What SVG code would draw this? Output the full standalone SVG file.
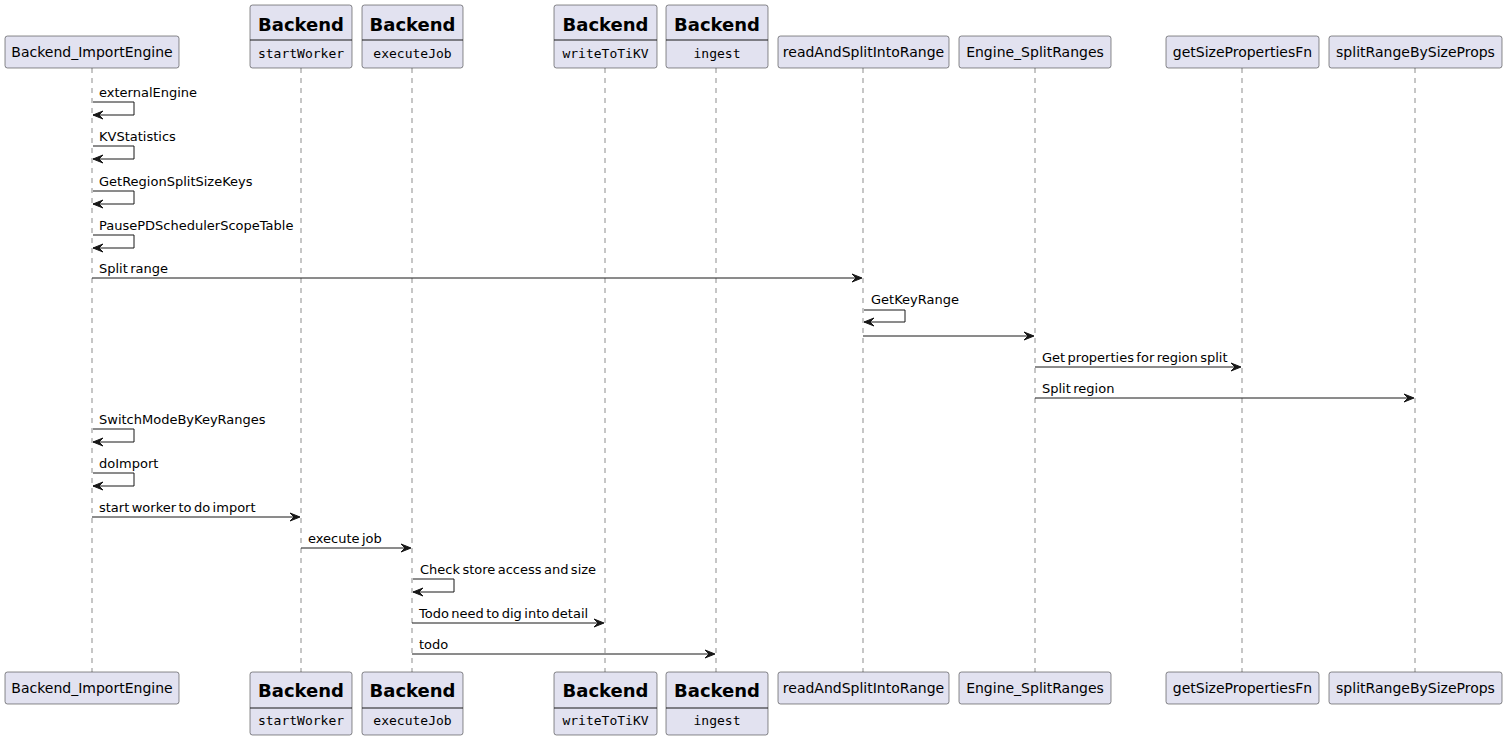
<svg xmlns="http://www.w3.org/2000/svg" width="1507" height="740" viewBox="0 0 1507 740">
<style>
.bg{fill:#FFFFFF}
.box{fill:#E2E2F0;stroke:#181818;stroke-width:0.5}
.life{stroke:#181818;stroke-width:0.5;stroke-dasharray:5,5;fill:none}
.msg{stroke:#181818;stroke-width:1;fill:none}
.head{fill:#181818;stroke:#181818;stroke-width:1}
.pl{font-family:"DejaVu Sans",sans-serif;font-size:14px;fill:#000000}
.pb{font-family:"DejaVu Sans",sans-serif;font-size:18px;font-weight:bold;fill:#000000}
.pm{font-family:"DejaVu Sans Mono",monospace;font-size:13px;fill:#000000}
.ml{font-family:"DejaVu Sans",sans-serif;font-size:13px;fill:#000000;word-spacing:-1.7px}
.sep{stroke:#181818;stroke-width:1}
</style>
<rect class="bg" x="0" y="0" width="1507" height="740"/>
<g id="lifelines">
<line class="life" x1="92" y1="68" x2="92" y2="672"/>
<line class="life" x1="301" y1="68" x2="301" y2="672"/>
<line class="life" x1="412" y1="68" x2="412" y2="672"/>
<line class="life" x1="605" y1="68" x2="605" y2="672"/>
<line class="life" x1="716" y1="68" x2="716" y2="672"/>
<line class="life" x1="863" y1="68" x2="863" y2="672"/>
<line class="life" x1="1035" y1="68" x2="1035" y2="672"/>
<line class="life" x1="1242" y1="68" x2="1242" y2="672"/>
<line class="life" x1="1415" y1="68" x2="1415" y2="672"/>
</g>
<g id="p_importengine">
<rect class="box" x="5" y="36" width="174" height="32" rx="2.5"/>
<text class="pl" x="92" y="57" text-anchor="middle">Backend_ImportEngine</text>
<rect class="box" x="5" y="672" width="174" height="32" rx="2.5"/>
<text class="pl" x="92" y="693" text-anchor="middle">Backend_ImportEngine</text>
</g>
<g id="p_startworker">
<rect class="box" x="250" y="5" width="102" height="63" rx="2.5"/>
<text class="pb" x="301" y="31" text-anchor="middle">Backend</text>
<line class="sep" x1="250" y1="40" x2="352" y2="40"/>
<text class="pm" x="301" y="58" text-anchor="middle">startWorker</text>
<rect class="box" x="250" y="672" width="102" height="63" rx="2.5"/>
<text class="pb" x="301" y="697" text-anchor="middle">Backend</text>
<line class="sep" x1="250" y1="708" x2="352" y2="708"/>
<text class="pm" x="301" y="725" text-anchor="middle">startWorker</text>
</g>
<g id="p_executejob">
<rect class="box" x="362" y="5" width="101" height="63" rx="2.5"/>
<text class="pb" x="412.5" y="31" text-anchor="middle">Backend</text>
<line class="sep" x1="362" y1="40" x2="463" y2="40"/>
<text class="pm" x="412.5" y="58" text-anchor="middle">executeJob</text>
<rect class="box" x="362" y="672" width="101" height="63" rx="2.5"/>
<text class="pb" x="412.5" y="697" text-anchor="middle">Backend</text>
<line class="sep" x1="362" y1="708" x2="463" y2="708"/>
<text class="pm" x="412.5" y="725" text-anchor="middle">executeJob</text>
</g>
<g id="p_writetotikv">
<rect class="box" x="554" y="5" width="103" height="63" rx="2.5"/>
<text class="pb" x="605.5" y="31" text-anchor="middle">Backend</text>
<line class="sep" x1="554" y1="40" x2="657" y2="40"/>
<text class="pm" x="605.5" y="58" text-anchor="middle">writeToTiKV</text>
<rect class="box" x="554" y="672" width="103" height="63" rx="2.5"/>
<text class="pb" x="605.5" y="697" text-anchor="middle">Backend</text>
<line class="sep" x1="554" y1="708" x2="657" y2="708"/>
<text class="pm" x="605.5" y="725" text-anchor="middle">writeToTiKV</text>
</g>
<g id="p_ingest">
<rect class="box" x="666" y="5" width="102" height="63" rx="2.5"/>
<text class="pb" x="717" y="31" text-anchor="middle">Backend</text>
<line class="sep" x1="666" y1="40" x2="768" y2="40"/>
<text class="pm" x="717" y="58" text-anchor="middle">ingest</text>
<rect class="box" x="666" y="672" width="102" height="63" rx="2.5"/>
<text class="pb" x="717" y="697" text-anchor="middle">Backend</text>
<line class="sep" x1="666" y1="708" x2="768" y2="708"/>
<text class="pm" x="717" y="725" text-anchor="middle">ingest</text>
</g>
<g id="p_readandsplit">
<rect class="box" x="778" y="36" width="171" height="32" rx="2.5"/>
<text class="pl" x="863.5" y="57" text-anchor="middle">readAndSplitIntoRange</text>
<rect class="box" x="778" y="672" width="171" height="32" rx="2.5"/>
<text class="pl" x="863.5" y="693" text-anchor="middle">readAndSplitIntoRange</text>
</g>
<g id="p_enginesplit">
<rect class="box" x="959" y="36" width="152" height="32" rx="2.5"/>
<text class="pl" x="1035" y="57" text-anchor="middle">Engine_SplitRanges</text>
<rect class="box" x="959" y="672" width="152" height="32" rx="2.5"/>
<text class="pl" x="1035" y="693" text-anchor="middle">Engine_SplitRanges</text>
</g>
<g id="p_getsize">
<rect class="box" x="1166" y="36" width="153" height="32" rx="2.5"/>
<text class="pl" x="1242.5" y="57" text-anchor="middle">getSizePropertiesFn</text>
<rect class="box" x="1166" y="672" width="153" height="32" rx="2.5"/>
<text class="pl" x="1242.5" y="693" text-anchor="middle">getSizePropertiesFn</text>
</g>
<g id="p_splitrange">
<rect class="box" x="1329" y="36" width="173" height="32" rx="2.5"/>
<text class="pl" x="1415.5" y="57" text-anchor="middle">splitRangeBySizeProps</text>
<rect class="box" x="1329" y="672" width="173" height="32" rx="2.5"/>
<text class="pl" x="1415.5" y="693" text-anchor="middle">splitRangeBySizeProps</text>
</g>
<g id="connectors">
<polyline class="msg" points="93,102 134,102 134,115 93,115"/>
<polygon class="head" points="103,111 93,115 103,119 99,115"/>
<text class="ml" x="99" y="97">externalEngine</text>
<polyline class="msg" points="93,146 134,146 134,159 93,159"/>
<polygon class="head" points="103,155 93,159 103,163 99,159"/>
<text class="ml" x="99" y="141">KVStatistics</text>
<polyline class="msg" points="93,191 134,191 134,204 93,204"/>
<polygon class="head" points="103,200 93,204 103,208 99,204"/>
<text class="ml" x="99" y="186">GetRegionSplitSizeKeys</text>
<polyline class="msg" points="93,235 134,235 134,248 93,248"/>
<polygon class="head" points="103,244 93,248 103,252 99,248"/>
<text class="ml" x="99" y="230">PausePDSchedulerScopeTable</text>
<line class="msg" x1="92" y1="278" x2="861" y2="278"/>
<polygon class="head" points="852,274 862,278 852,282 856,278"/>
<text class="ml" x="99" y="273">Split range</text>
<polyline class="msg" points="864,310 905,310 905,322 864,322"/>
<polygon class="head" points="874,318 864,322 874,326 870,322"/>
<text class="ml" x="871" y="304">GetKeyRange</text>
<line class="msg" x1="863" y1="336" x2="1033" y2="336"/>
<polygon class="head" points="1024,332 1034,336 1024,340 1028,336"/>
<line class="msg" x1="1035" y1="367" x2="1240" y2="367"/>
<polygon class="head" points="1231,363 1241,367 1231,371 1235,367"/>
<text class="ml" x="1042" y="362">Get properties for region split</text>
<line class="msg" x1="1035" y1="398" x2="1413" y2="398"/>
<polygon class="head" points="1404,394 1414,398 1404,402 1408,398"/>
<text class="ml" x="1042" y="393">Split region</text>
<polyline class="msg" points="93,429 134,429 134,442 93,442"/>
<polygon class="head" points="103,438 93,442 103,446 99,442"/>
<text class="ml" x="99" y="424">SwitchModeByKeyRanges</text>
<polyline class="msg" points="93,473 134,473 134,486 93,486"/>
<polygon class="head" points="103,482 93,486 103,490 99,486"/>
<text class="ml" x="99" y="468">doImport</text>
<line class="msg" x1="92" y1="517" x2="299" y2="517"/>
<polygon class="head" points="290,513 300,517 290,521 294,517"/>
<text class="ml" x="99" y="512">start worker to do import</text>
<line class="msg" x1="301" y1="548" x2="410" y2="548"/>
<polygon class="head" points="401,544 411,548 401,552 405,548"/>
<text class="ml" x="308" y="543">execute job</text>
<polyline class="msg" points="413,579 454,579 454,592 413,592"/>
<polygon class="head" points="423,588 413,592 423,596 419,592"/>
<text class="ml" x="420" y="574">Check store access and size</text>
<line class="msg" x1="412" y1="623" x2="603" y2="623"/>
<polygon class="head" points="594,619 604,623 594,627 598,623"/>
<text class="ml" x="419" y="618">Todo need to dig into detail</text>
<line class="msg" x1="412" y1="654" x2="714" y2="654"/>
<polygon class="head" points="705,650 715,654 705,658 709,654"/>
<text class="ml" x="419" y="649">todo</text>
</g>
</svg>
